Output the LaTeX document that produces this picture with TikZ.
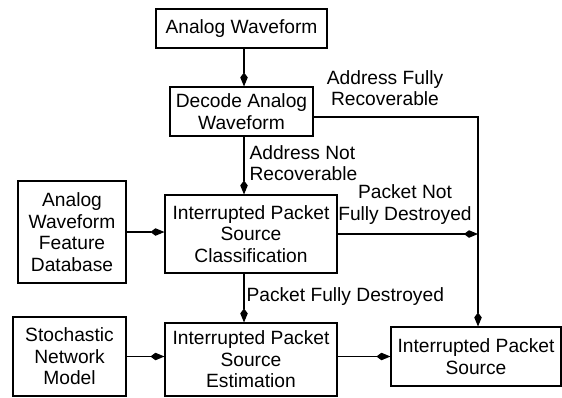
\documentclass[tikz,border=0pt]{standalone}
\usepackage{fontspec}
\setmainfont{Liberation Sans}
\usetikzlibrary{arrows.meta}

\begin{document}
\begin{tikzpicture}[x=1pt,y=-1pt,line width=1.1pt,
		font=\fontsize{19.2}{21.5}\selectfont,
		box/.style={draw,align=center,inner sep=0pt},
		flow/.style={-{Kite[length=14pt,width=7.5pt,inset=5pt]}},
		lbl/.style={align=left,inner sep=0pt}]

		\useasboundingbox (0,0) rectangle (562,397);

		\node[box,minimum width=171,minimum height=39] (wave) at (241.5,28.5) {Analog Waveform};
		\node[box,minimum width=143,minimum height=49] (dec) at (241.5,111.5) {Decode Analog\\Waveform};
		\node[box,minimum width=108,minimum height=102] (db) at (72,232) {Analog\\Waveform\\Feature\\Database};
		\node[box,minimum width=172,minimum height=78] (cls) at (251,234) {Interrupted Packet\\Source\\Classification};
		\node[box,minimum width=113,minimum height=79] (snm) at (69.5,356.5) {Stochastic\\Network\\Model};
		\node[box,minimum width=172,minimum height=73] (est) at (251,359.5) {Interrupted Packet\\Source\\Estimation};
		\node[box,minimum width=170,minimum height=59] (src) at (476,356.5) {Interrupted Packet\\Source};

		\coordinate (spine) at (244,0);
		\coordinate (turn) at (478,117);

		% labels
		\node[lbl,align=center] (afr) at (385,88) {Address Fully\\Recoverable};
		\node[lbl,anchor=west] (anr) at (249,163) {Address Not\\Recoverable};
		\node[lbl,align=center] (pnd) at (405,204.5) {Packet Not\\Fully Destroyed};
		\node[lbl,anchor=west] (pfd) at (246,297) {Packet Fully Destroyed};

		\draw[flow] (wave.south -| spine) -- (dec.north -| spine);
		\draw[flow] (dec.south -| spine) -- (cls.north -| spine);
		\draw[flow] (dec.east |- turn) -- (turn) -- (turn |- src.north);
		\draw[flow] (cls.east) -- (cls.east -| turn);
		\draw[flow] (db.east) -- (db.east -| cls.west);
		\draw[flow] (cls.south -| spine) -- (est.north -| spine);
		\draw[flow] (snm.east) -- (snm.east -| est.west);
		\draw[flow] (est.east |- src.west) -- (src.west);
	\end{tikzpicture}
\end{document}
